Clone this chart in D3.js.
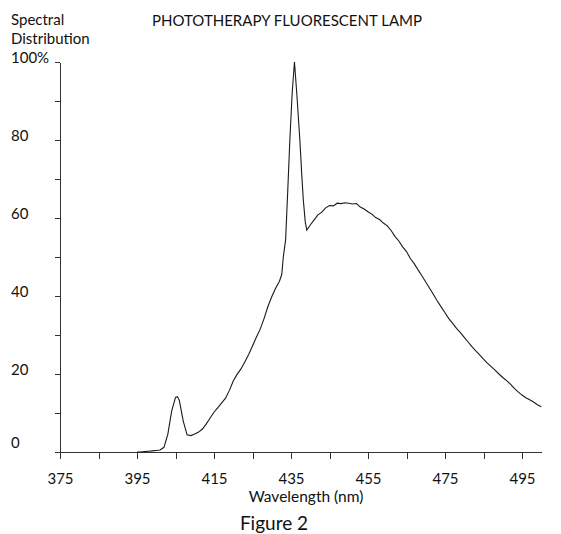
<!DOCTYPE html>
<html>
<head>
<meta charset="utf-8">
<script src="https://cdn.jsdelivr.net/npm/d3@7"></script>
<style>
  body { margin: 0; background: #fff; }
  text { font-family: Lato, "Open Sans", sans-serif; fill: #111; }
  .axis path, .axis line { stroke: #333; stroke-width: 1; shape-rendering: crispEdges; }
</style>
</head>
<body>
<div id="chart"></div>
<script>
// dados (nm, % relativo)
const wavelengths = [
  395, 396, 397, 398, 399, 400, 401, 402, 403, 404, 405, 405.5, 406, 407, 408, 409,
  410, 411, 412, 413, 414, 415, 416, 417, 418, 419, 420, 421, 422, 423, 424, 425,
  426, 427, 428, 429, 430, 431, 432, 432.6, 433, 433.6, 434.2, 434.7, 435.3, 435.9,
  436.5, 437.3, 437.8, 438.2, 438.7, 439.1, 440, 441, 442, 443, 444, 445, 446, 447,
  448, 449, 450, 451, 452, 453, 454, 455, 456, 457, 458, 459, 460, 461, 462, 463,
  464, 465, 466, 467, 468, 469, 470, 471, 472, 473, 474, 475, 476, 477, 478, 479,
  480, 481, 482, 483, 484, 485, 486, 487, 488, 489, 490, 491, 492, 493, 494, 495,
  496, 497, 498, 499, 500
];
const intensity = [
  0, 0, 0.1, 0.2, 0.3, 0.4, 0.5, 1.2, 4.5, 10.5, 14.0, 14.2, 13.2, 8.0, 4.4, 4.2,
  4.6, 5.1, 5.9, 7.2, 8.7, 10.2, 11.4, 12.6, 13.8, 15.8, 18.2, 19.9, 21.3, 23.1, 25.0, 27.2,
  29.4, 31.5, 34.2, 37.3, 39.8, 42.0, 43.8, 45.5, 50, 54.4, 68, 80, 92, 100,
  92, 80, 71, 64.6, 59, 56.9, 58.2, 59.5, 60.8, 61.5, 62.6, 63.2, 63.1, 63.8,
  63.7, 63.9, 63.8, 63.6, 63.7, 62.8, 62.3, 61.6, 61.0, 60.1, 59.6, 58.7, 58.0, 56.8, 55.3, 54.1,
  52.6, 51.4, 49.6, 48.3, 46.7, 45.2, 43.6, 42.0, 40.4, 38.7, 37.2, 35.7, 34.2, 33.0, 31.7, 30.6,
  29.4, 28.2, 27.0, 25.9, 24.9, 23.8, 22.8, 21.9, 21.0, 20.0, 19.1, 18.3, 17.4, 16.3, 15.4, 14.6,
  13.9, 13.4, 12.8, 12.1, 11.6
];
const xTicks = [375, 385, 395, 405, 415, 425, 435, 445, 455, 465, 475, 485, 495];
const xLabels = [375, 395, 415, 435, 455, 475, 495];
const yTicks = [0, 10, 20, 30, 40, 50, 60, 70, 80, 90, 100];
const yLabels = [0, 20, 40, 60, 80, 100];

const W = 561, H = 534;
const svg = d3.select("#chart").append("svg")
  .attr("width", W).attr("height", H);

const x = d3.scaleLinear().domain([375, 500]).range([60, 541.25]);
const y = d3.scaleLinear().domain([0, 100]).range([452, 62]);

// eixo x
const xAxis = svg.append("g")
  .attr("class", "axis")
  .attr("transform", "translate(0,452)")
  .call(d3.axisBottom(x).tickValues(xTicks).tickSize(7).tickSizeOuter(0)
    .tickFormat(d => xLabels.includes(d) ? d : ""));
xAxis.selectAll("text")
  .attr("y", 32).attr("dy", 0)
  .style("font-size", "15px");

// eixo y
const yAxis = svg.append("g")
  .attr("class", "axis")
  .attr("transform", "translate(60,0)")
  .call(d3.axisLeft(y).tickValues(yTicks).tickSize(5).tickSizeOuter(0)
    .tickFormat(d => yLabels.includes(d) ? (d === 100 ? "100%" : d) : ""));
yAxis.selectAll("text")
  .attr("x", -49).attr("dy", 0)
  .attr("text-anchor", "start")
  .style("font-size", "15px");
yAxis.selectAll(".tick").filter(d => d === 0).select("text").attr("dy", -5);

// curva espectral
const data = wavelengths.map((w, i) => ({ w: w, v: intensity[i] }));
svg.append("path")
  .datum(data)
  .attr("fill", "none")
  .attr("stroke", "#1a1a1a")
  .attr("stroke-width", 1.1)
  .attr("d", d3.line().x(d => x(d.w)).y(d => y(d.v)));

// textos
svg.append("text").attr("x", 11).attr("y", 25).style("font-size", "15px").text("Spectral");
svg.append("text").attr("x", 11).attr("y", 44).style("font-size", "15px").text("Distribution");
svg.append("text").attr("x", 152).attr("y", 26).style("font-size", "15px")
  .text("PHOTOTHERAPY FLUORESCENT LAMP");
svg.append("text").attr("x", 306).attr("y", 502).attr("text-anchor", "middle")
  .style("font-size", "15.5px").text("Wavelength (nm)");
svg.append("text").attr("x", 274).attr("y", 530).attr("text-anchor", "middle")
  .style("font-size", "19px").text("Figure 2");
</script>
</body>
</html>
